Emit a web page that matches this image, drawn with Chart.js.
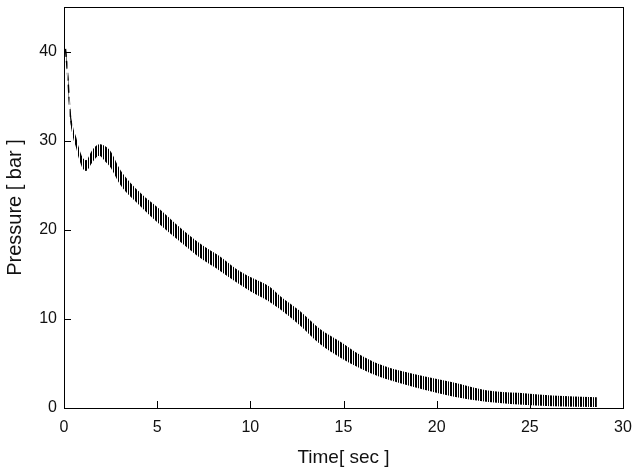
<!DOCTYPE html>
<html>
<head>
<meta charset="utf-8">
<script src="https://cdn.jsdelivr.net/npm/chart.js@4"></script>
<style>
html,body{margin:0;padding:0;background:#fff;}
#wrap{width:642px;height:472px;}
</style>
</head>
<body>
<div id="wrap"><canvas id="c" width="642" height="472"></canvas></div>
<script>
// Time [sec]
const time = [0.1,0.21,0.32,0.48,0.64,0.8,1.0,1.18,1.5,1.89,2.2,2.5,3.0,4.07,5.14,6.04,7.47,8.3,9.25,10.0,11.04,11.58,12.65,13.72,14.79,15.86,16.93,18.0,19.44,20.86,22.65,24.4,26.2,28.6];
// upper edge of the pressure band [bar]
const pUpper = [40.3,37.6,33.9,31.6,30.5,29.2,28.1,27.8,28.9,29.6,29.4,28.8,26.8,24.2,22.3,20.6,18.2,17.1,15.6,14.7,13.6,12.6,10.9,8.9,7.5,6.0,4.9,4.2,3.5,2.9,2.0,1.7,1.4,1.2];
// lower edge of the pressure band [bar]
const pLower = [39.7,36.4,32.7,30.4,29.3,28.0,26.9,26.6,27.5,28.3,27.7,27.0,25.1,22.7,20.6,19.0,16.6,15.5,14.1,13.1,11.9,11.1,9.3,7.2,5.7,4.5,3.5,2.8,2.0,1.3,0.7,0.4,0.2,0.1];
// dashed centre line of the steep initial drop
const startTime = [0.08,0.21,0.32,0.48,0.64,0.8,1.0,1.18];
const startP = [40.3,37.0,33.3,31.0,29.9,28.6,27.5,27.0];
const xTicks = [0,5,10,15,20,25,30];
const yTicks = [0,10,20,30,40];

// vertical stripe pattern
const pc = document.createElement('canvas');
pc.width = 5; pc.height = 1;
const pctx = pc.getContext('2d');
pctx.fillStyle = '#fff'; pctx.fillRect(0,0,5,1);
pctx.fillStyle = '#000'; pctx.fillRect(0,0,2,1); pctx.fillRect(3,0,1,1);
const stripes = pctx.createPattern(pc,'repeat');

const frame = {
  id:'frame',
  afterDatasetsDraw(chart){
    const {ctx, chartArea:a, scales:{x,y}} = chart;
    ctx.save();
    ctx.strokeStyle = '#000';
    ctx.lineWidth = 1;
    ctx.strokeRect(Math.round(a.left)+0.5, Math.round(a.top)+0.5, Math.round(a.right-a.left), Math.round(a.bottom-a.top));
    ctx.beginPath();
    xTicks.forEach(v=>{const px=Math.round(x.getPixelForValue(v))+0.5; ctx.moveTo(px,a.bottom); ctx.lineTo(px,a.bottom-7);});
    yTicks.forEach(v=>{const py=Math.round(y.getPixelForValue(v))+0.5; ctx.moveTo(a.left,py); ctx.lineTo(a.left+7,py);});
    ctx.stroke();
    ctx.restore();
  }
};

new Chart(document.getElementById('c'),{
  type:'scatter',
  data:{datasets:[
    {data:time.map((t,i)=>({x:t,y:pUpper[i]})), showLine:true, borderColor:'rgba(0,0,0,0)', borderWidth:0, pointRadius:0, cubicInterpolationMode:'monotone', fill:false},
    {data:time.map((t,i)=>({x:t,y:pLower[i]})), showLine:true, borderColor:'rgba(0,0,0,0)', borderWidth:0, pointRadius:0, cubicInterpolationMode:'monotone', fill:'-1', backgroundColor:stripes},
    {data:startTime.map((t,i)=>({x:t,y:startP[i]})), showLine:true, borderColor:'#000', borderWidth:1.5, borderDash:[8,4], pointRadius:0, cubicInterpolationMode:'monotone', fill:false}
  ]},
  options:{
    responsive:false, animation:false,
    layout:{padding:{left:0,top:7,right:19,bottom:0}},
    plugins:{legend:{display:false},tooltip:{enabled:false}},
    scales:{
      x:{type:'linear',min:0,max:30,
        afterBuildTicks(s){s.ticks = xTicks.map(v=>({value:v}));},
        afterFit(s){s.height=64;},
        grid:{display:false,drawTicks:false},border:{display:false},
        ticks:{padding:10,color:'#111',font:{family:'Liberation Sans, Arial',size:16}},
        title:{display:true,text:'Time[ sec ]',color:'#111',font:{family:'Liberation Sans, Arial',size:19},padding:{top:4,bottom:3}}
      },
      y:{type:'linear',min:0,max:45,
        afterBuildTicks(s){s.ticks = yTicks.map(v=>({value:v}));},
        afterFit(s){s.width=64; s.paddingTop=0; s.paddingBottom=0;},
        grid:{display:false,drawTicks:false},border:{display:false},
        ticks:{padding:7,color:'#111',font:{family:'Liberation Sans, Arial',size:16}},
        title:{display:true,text:'Pressure [ bar ]',color:'#111',font:{family:'Liberation Sans, Arial',size:20},padding:{top:3,bottom:4}}
      }
    }
  },
  plugins:[frame]
});
</script>
</body>
</html>
